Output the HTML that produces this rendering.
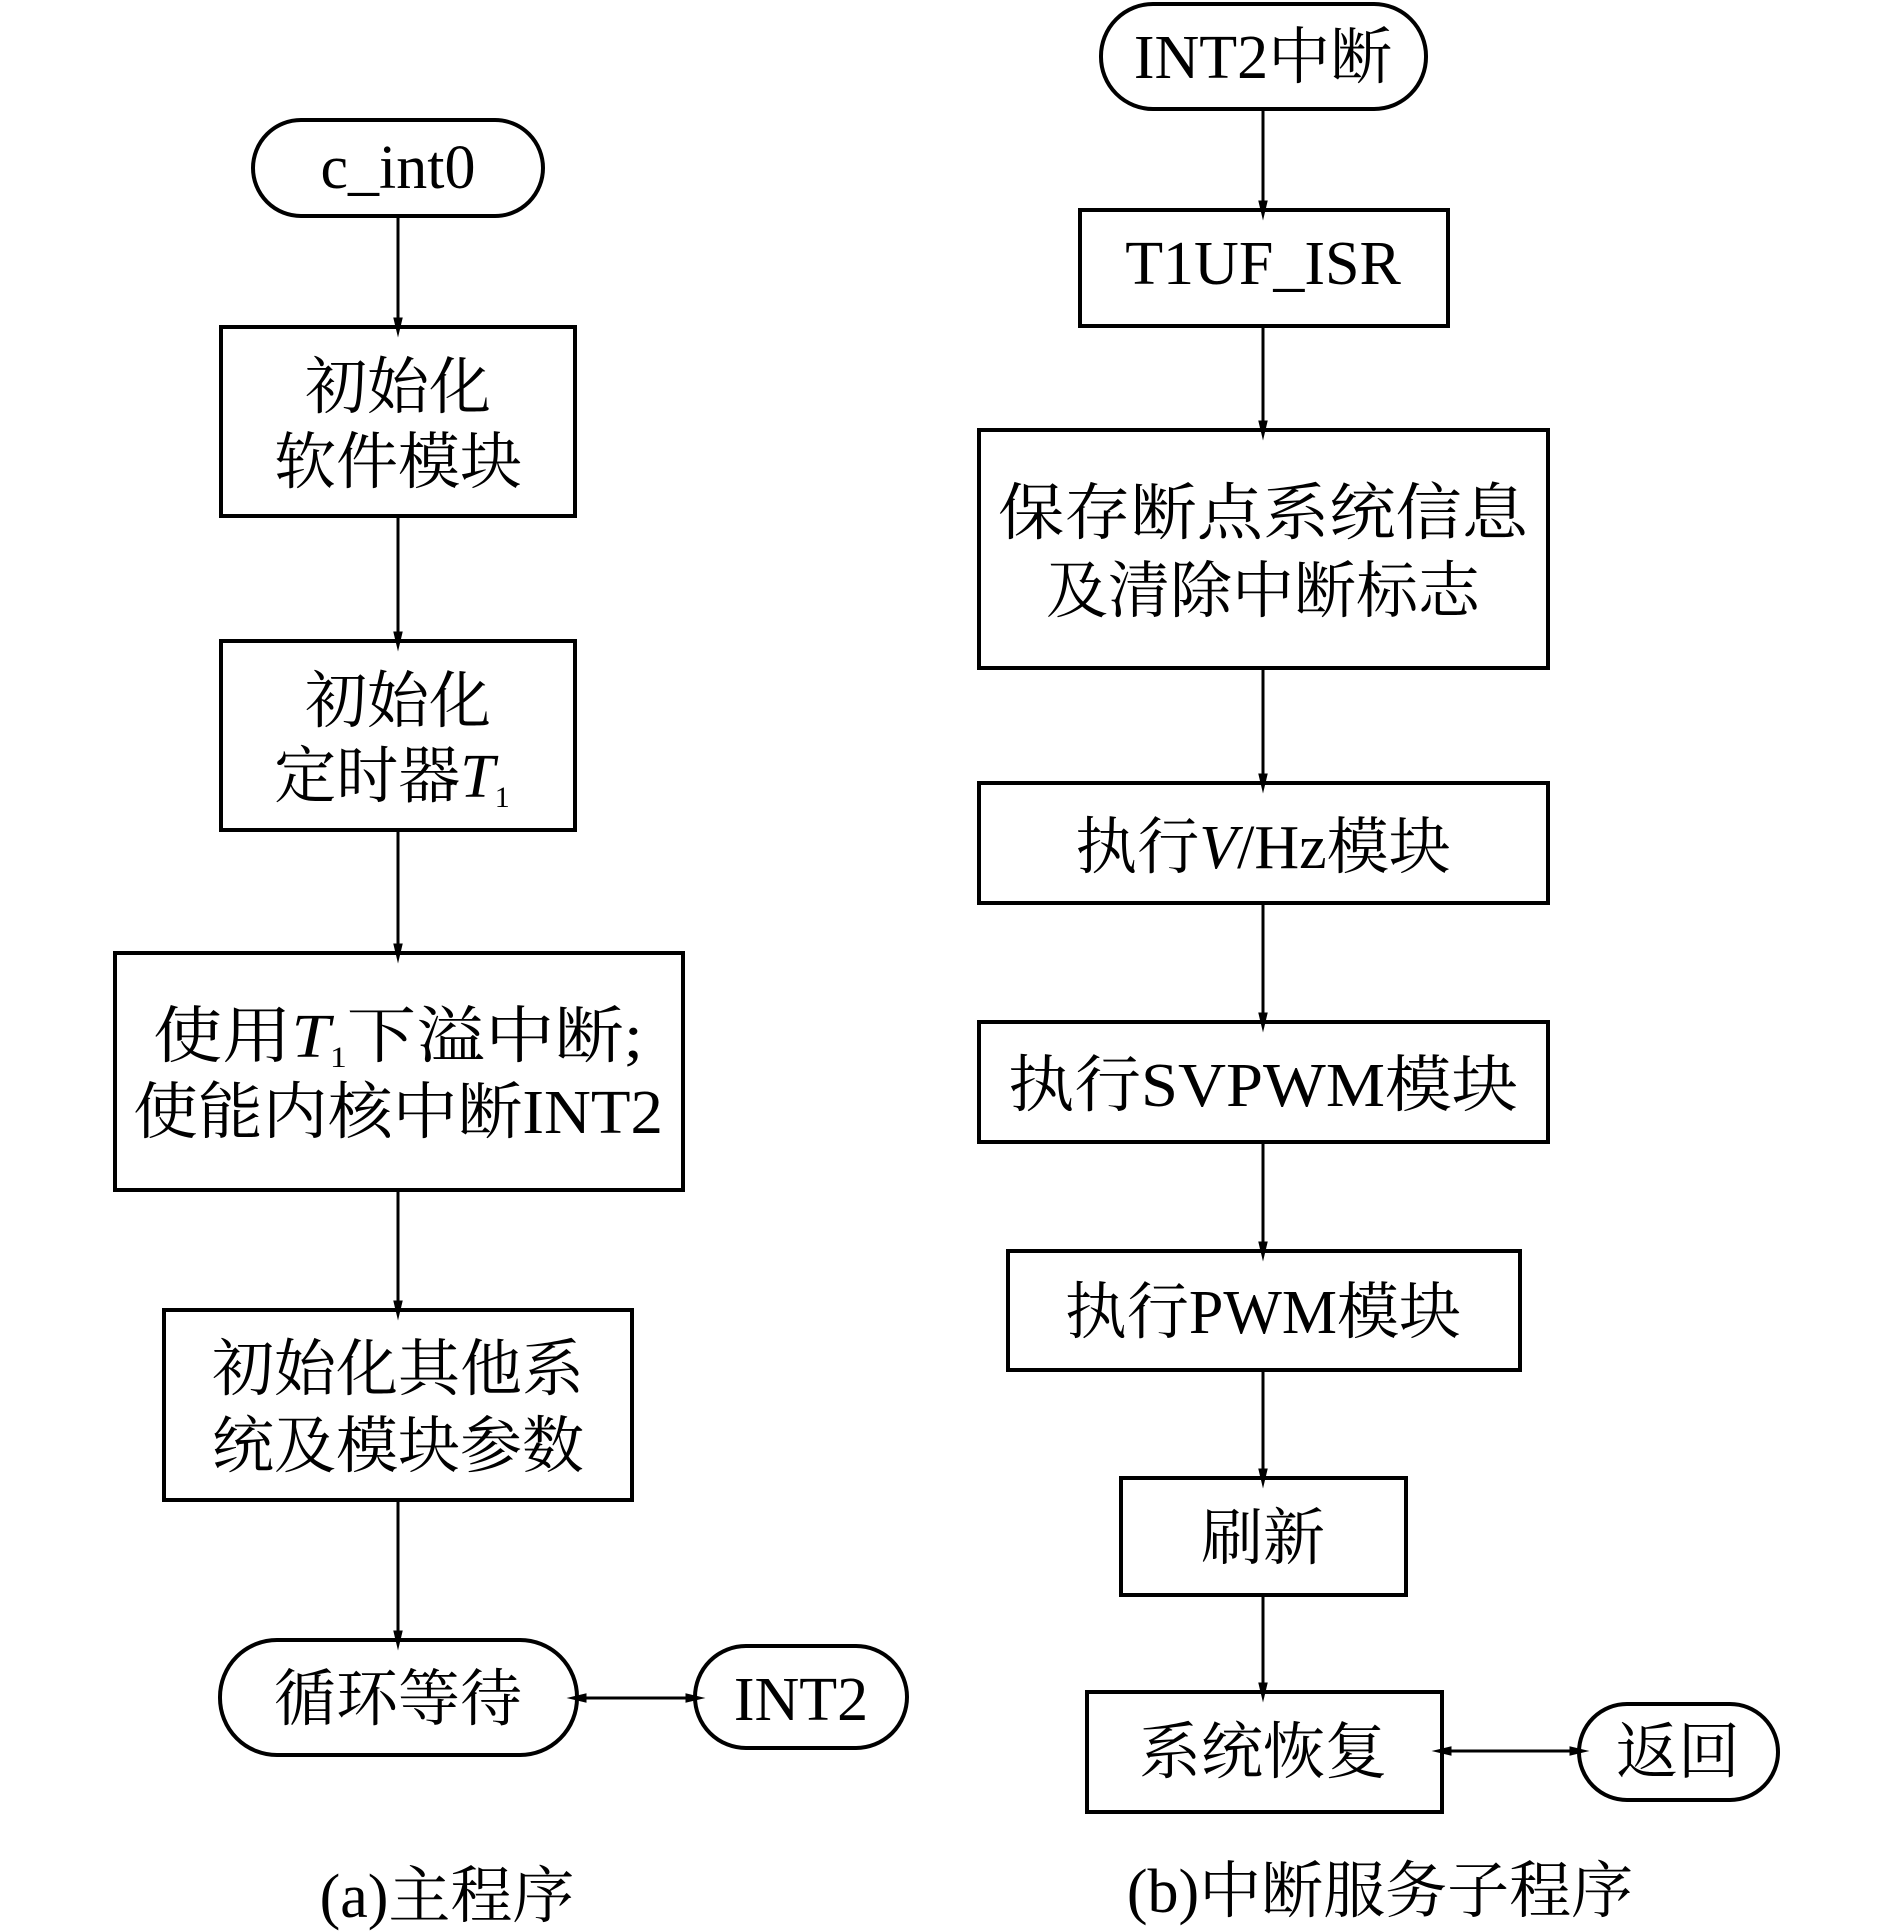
<!DOCTYPE html>
<html><head><meta charset="utf-8"><style>
html,body{margin:0;padding:0;background:#fff;}
svg{display:block;}
text{font-family:"Liberation Serif","Noto Serif CJK SC",serif;fill:#000;}
</style></head><body>
<svg width="1889" height="1932" viewBox="0 0 1889 1932" xmlns="http://www.w3.org/2000/svg">
<defs>
<marker id="a" markerWidth="20" markerHeight="42" refX="20" refY="10" orient="auto" markerUnits="userSpaceOnUse" viewBox="0 0 42 20">
<path d="M0,0 L42,10 L0,20 z" fill="#000"/>
</marker>
</defs>
<g fill="none" stroke="#000" stroke-width="4">
<!-- left -->
<rect x="253" y="120" width="290" height="96" rx="48"/>
<rect x="221" y="327" width="354" height="189"/>
<rect x="221" y="641" width="354" height="189"/>
<rect x="115" y="953" width="568" height="237"/>
<rect x="164" y="1310" width="468" height="190"/>
<rect x="220" y="1640" width="357" height="115" rx="57"/>
<rect x="695" y="1646" width="212" height="102" rx="51"/>
<!-- right -->
<rect x="1101" y="4" width="325" height="105" rx="52"/>
<rect x="1080" y="210" width="368" height="116"/>
<rect x="979" y="430" width="569" height="238"/>
<rect x="979" y="783" width="569" height="120"/>
<rect x="979" y="1022" width="569" height="120"/>
<rect x="1008" y="1251" width="512" height="119"/>
<rect x="1121" y="1478" width="285" height="117"/>
<rect x="1087" y="1692" width="355" height="120"/>
<rect x="1579" y="1704" width="199" height="96" rx="48"/>
</g>
<g stroke="#000" stroke-width="3" fill="none">
<line x1="398" y1="216" x2="398" y2="327" marker-end="url(#a)"/>
<line x1="398" y1="516" x2="398" y2="641" marker-end="url(#a)"/>
<line x1="398" y1="830" x2="398" y2="953" marker-end="url(#a)"/>
<line x1="398" y1="1190" x2="398" y2="1310" marker-end="url(#a)"/>
<line x1="398" y1="1500" x2="398" y2="1640" marker-end="url(#a)"/>
<line x1="636" y1="1698" x2="695" y2="1698" marker-end="url(#a)"/>
<line x1="636" y1="1698" x2="577" y2="1698" marker-end="url(#a)"/>
<line x1="1263" y1="109" x2="1263" y2="210" marker-end="url(#a)"/>
<line x1="1263" y1="326" x2="1263" y2="430" marker-end="url(#a)"/>
<line x1="1263" y1="668" x2="1263" y2="783" marker-end="url(#a)"/>
<line x1="1263" y1="903" x2="1263" y2="1022" marker-end="url(#a)"/>
<line x1="1263" y1="1142" x2="1263" y2="1251" marker-end="url(#a)"/>
<line x1="1263" y1="1370" x2="1263" y2="1478" marker-end="url(#a)"/>
<line x1="1263" y1="1595" x2="1263" y2="1692" marker-end="url(#a)"/>
<line x1="1510" y1="1751" x2="1579" y2="1751" marker-end="url(#a)"/>
<line x1="1510" y1="1751" x2="1442" y2="1751" marker-end="url(#a)"/>
</g>
<g font-size="62" text-anchor="middle">
<text x="398" y="188">c_int0</text>
<text x="398" y="408">初始化</text>
<text x="398" y="483">软件模块</text>
<text x="398" y="722">初始化</text>
<text x="392" y="797">定时器<tspan font-style="italic">T</tspan><tspan font-size="30" dy="10">1</tspan></text>
<text x="398" y="1057" textLength="490" lengthAdjust="spacingAndGlyphs">使用<tspan font-style="italic">T</tspan><tspan font-size="30" dy="10">1</tspan><tspan dy="-10">下溢中断;</tspan></text>
<text x="398" y="1133" textLength="530" lengthAdjust="spacingAndGlyphs">使能内核中断INT2</text>
<text x="398" y="1390">初始化其他系</text>
<text x="398" y="1467">统及模块参数</text>
<text x="398" y="1720">循环等待</text>
<text x="801" y="1720">INT2</text>
<text x="447" y="1917">(a)主程序</text>
<text x="1263" y="78">INT2中断</text>
<text x="1263" y="284">T1UF_ISR</text>
<text x="1263" y="534" textLength="530" lengthAdjust="spacingAndGlyphs">保存断点系统信息</text>
<text x="1263" y="612">及清除中断标志</text>
<text x="1263" y="868">执行<tspan font-style="italic">V</tspan>/Hz模块</text>
<text x="1263" y="1106" textLength="510" lengthAdjust="spacingAndGlyphs">执行SVPWM模块</text>
<text x="1263" y="1333">执行PWM模块</text>
<text x="1263" y="1559">刷新</text>
<text x="1263" y="1773">系统恢复</text>
<text x="1678" y="1773">返回</text>
<text x="1380" y="1912">(b)中断服务子程序</text>
</g>
</svg>
</body></html>
